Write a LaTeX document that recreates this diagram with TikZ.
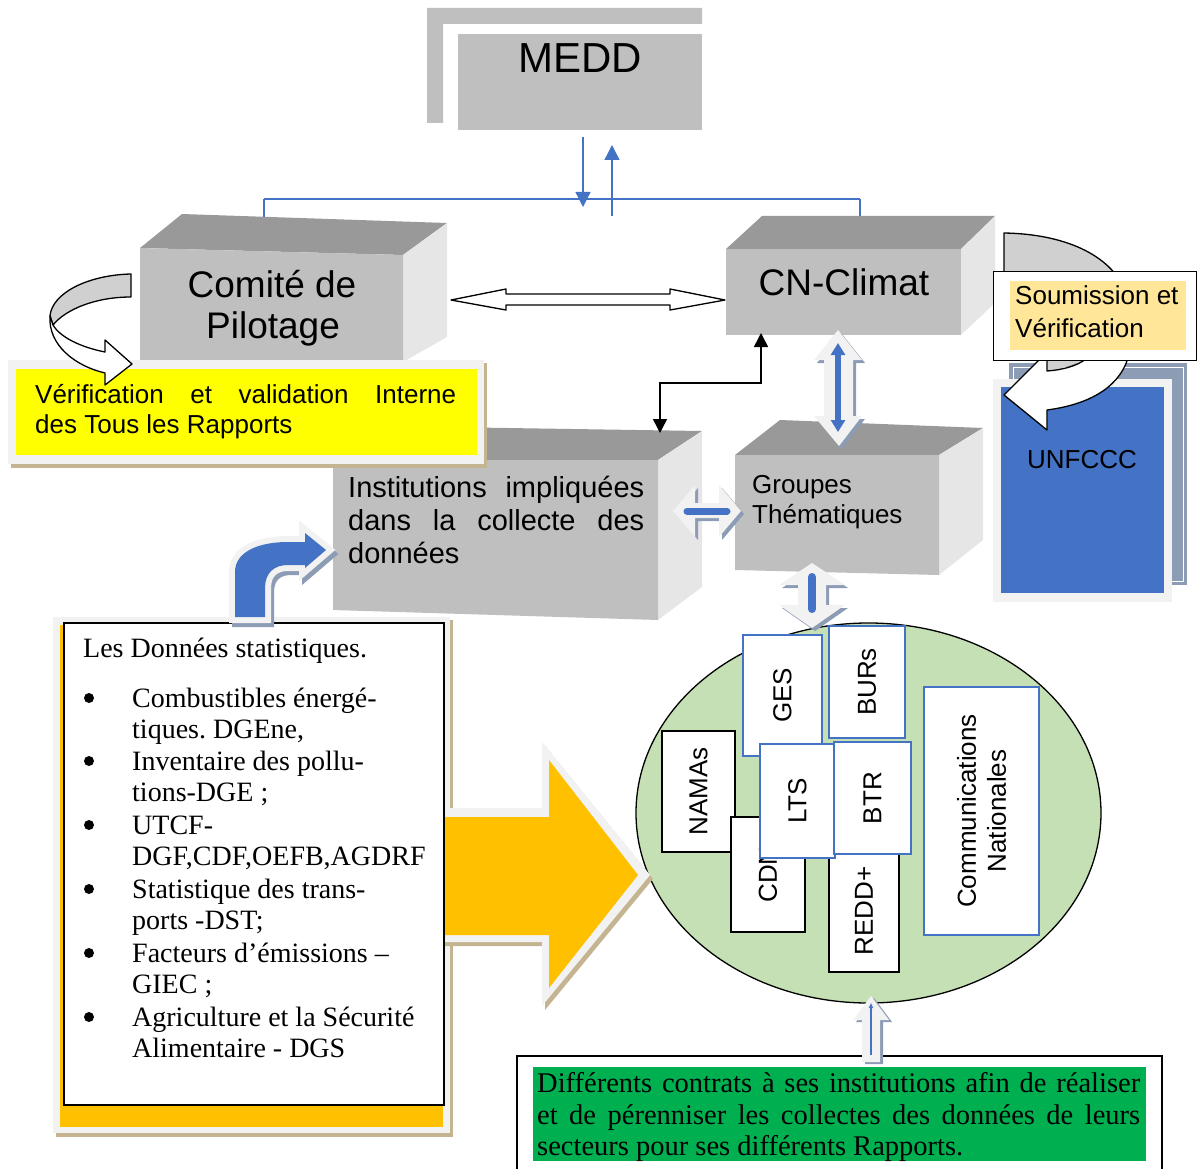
\documentclass[tikz,border=0pt]{standalone}
\usepackage{fontspec}
\setmainfont{Liberation Sans}
\newfontfamily\seriffont{Liberation Serif}
\usetikzlibrary{arrows.meta}
\frenchspacing
\definecolor{gfront}{HTML}{BFBFBF}
\definecolor{gtop}{HTML}{999999}
\definecolor{gside}{HTML}{E6E6E6}
\definecolor{bl}{HTML}{4472C4}
\definecolor{lightfr}{HTML}{F2F2F2}
\definecolor{tanc}{HTML}{C4B590}
\definecolor{yel}{HTML}{FFFF00}
\definecolor{peach}{HTML}{FFE699}
\definecolor{orng}{HTML}{FFC000}
\definecolor{ellg}{HTML}{C5E0B4}
\definecolor{grn}{HTML}{00B050}
\definecolor{bgray}{HTML}{8C9CB4}
\definecolor{curvg}{HTML}{D0D0D0}
\tikzset{
  fs/.style={font=\fontsize{#1}{#1}\selectfont},
  sfs/.style={font=\seriffont\fontsize{#1}{#1}\selectfont},
  txt/.style={inner sep=0pt, anchor=base west},
  ctxt/.style={inner sep=0pt, anchor=base},
  blueconn/.style={draw=bl, line width=1.3pt, -{Triangle[width=15pt,length=15pt]}},
  bluebox/.style={draw=bl, line width=2.2pt, fill=white, rotate=90, inner sep=0pt, fs=26, align=center},
  blackbox/.style={draw=black, line width=1.5pt, fill=white, rotate=90, inner sep=0pt, fs=26},
  outl/.style={draw=black, line width=1.3pt, line join=round},
  lighta/.style={fill=lightfr},
  shada/.style={fill=bgray},
  bulletdot/.style={circle, fill=black, inner sep=0pt, minimum size=10pt},
}
\begin{document}
\begin{tikzpicture}[x=1pt,y=-1pt]
\useasboundingbox (0,0) rectangle (1197,1169);

% ---------------- MEDD
\fill[gfront] (427,8) -- (702,8) -- (702,24) -- (443,24) -- (443,123) -- (427,123) -- cycle;
\node[fill=gfront, minimum width=244pt, minimum height=96pt, inner sep=0pt, anchor=north west] (medd) at (458,34) {};
\node[ctxt, fs=42] (meddt) at (580,73) {MEDD};

% connectors from MEDD
\coordinate (md1) at (583,137);
\coordinate (md2) at (583,207);
\coordinate (mu1) at (612,216);
\coordinate (mu2) at (612,145);
\coordinate (hl) at (264,199);
\coordinate (hr) at (860,199);
\coordinate (comtop) at (264,252);
\coordinate (cntop) at (860,253);
\draw[blueconn] (md1) -- (md2);
\draw[blueconn] (mu1) -- (mu2);
\draw[draw=bl, line width=1.3pt] (hl) -- (hr);
\draw[blueconn] (hl) -- (comtop);
\draw[blueconn] (hr) -- (cntop);

% ---------------- Comite de Pilotage cube
\fill[gtop] (140,248) -- (182,214) -- (447,223) -- (403,255) -- cycle;
\fill[gside] (403,255) -- (447,223) -- (447,337) -- (403,362) -- cycle;
\fill[gfront] (140,248) -- (403,255) -- (403,362) -- (140,362) -- cycle;
\node[ctxt, fs=37] (com1) at (272,297) {Comité de};
\node[ctxt, fs=37] (com2) at (273,338) {Pilotage};

% ---------------- CN-Climat cube
\fill[gtop] (726,249) -- (762,216) -- (995,216) -- (961,249) -- cycle;
\fill[gside] (961,249) -- (995,216) -- (995,303) -- (961,335) -- cycle;
\fill[gfront] (726,249) rectangle (961,335);
\node[ctxt, fs=37] (cnt) at (844,295) {CN-Climat};

% ---------------- Institutions cube
\fill[gtop] (333,460) -- (377,426) -- (702,431) -- (658,460) -- cycle;
\fill[gside] (658,460) -- (702,431) -- (702,587) -- (658,620) -- cycle;
\fill[gfront] (333,460) -- (658,460) -- (658,620) -- (333,610) -- cycle;
\node[txt, fs=29] (ins1) at (348,497) {\makebox[296pt][s]{Institutions impliquées}};
\node[txt, fs=29] (ins2) at (348,530) {\makebox[296pt][s]{dans la collecte des}};
\node[txt, fs=29] (ins3) at (348,563) {données};

% ---------------- Groupes cube
\fill[gtop] (735,455) -- (780,420) -- (983,428) -- (939,455) -- cycle;
\fill[gside] (939,455) -- (983,428) -- (983,540) -- (939,575) -- cycle;
\fill[gfront] (735,455) -- (939,455) -- (939,575) -- (735,570) -- cycle;
\node[txt, fs=26] (gr1) at (752,493) {Groupes};
\node[txt, fs=26] (gr2) at (752,523) {Thématiques};

% ---------------- Yellow box
\fill[tanc] (11,363) rectangle (487,468);
\fill[lightfr] (8,360) rectangle (484,464);
\fill[yel] (16,369) rectangle (477,455);
\node[txt, fs=26] (ver1) at (35,403) {\makebox[421pt][s]{Vérification et validation Interne}};
\node[txt, fs=26] (ver2) at (35,433) {des Tous les Rapports};

% left curved arrow
\filldraw[outl, fill=curvg] (131,274) .. controls (88,275) and (52,293) .. (50,316) -- (53,325) .. controls (66,309) and (96,297) .. (131,297) -- cycle;
\filldraw[outl, fill=white] (50,316) .. controls (48,345) and (75,366) .. (105,373) -- (105,385) -- (132,364) -- (105,340) -- (105,352) .. controls (80,347) and (60,337) .. (53,325) -- cycle;

% white double arrow Comite <-> CN
\filldraw[outl, fill=white] (451,300) -- (506,289) -- (506,294) -- (670,294) -- (670,289) -- (725,300) -- (670,310) -- (670,305) -- (506,305) -- (506,310) -- cycle;

% black elbow arrow
\coordinate (insttop) at (660,433);
\coordinate (elb) at (761,383);
\coordinate (cnbot) at (761,333);
\draw[line width=1.5pt, {Triangle[width=14pt,length=14pt]}-{Triangle[width=14pt,length=14pt]}] (insttop) |- (elb) -- (cnbot);

% blue vertical double arrow CN <-> Groupes
\fill[shada, shift={(3,3)}] (838,330) -- (862,360) -- (853,360) -- (853,416) -- (862,416) -- (839,446) -- (814,416) -- (824,416) -- (824,360) -- (814,360) -- cycle;
\fill[lighta] (838,330) -- (862,360) -- (853,360) -- (853,416) -- (862,416) -- (839,446) -- (814,416) -- (824,416) -- (824,360) -- (814,360) -- cycle;
\coordinate (va1) at (838,343);
\coordinate (va2) at (838,432);
\draw[bl, line width=6pt, {Triangle[width=14pt,length=12pt]}-{Triangle[width=14pt,length=12pt]}] (va1) -- (va2);

% horizontal double arrow Institutions <-> Groupes
\fill[shada, shift={(3,3)}] (673,511) -- (695,485) -- (695,503) -- (719,503) -- (719,485) -- (741,511) -- (719,537) -- (719,518) -- (695,518) -- (695,537) -- cycle;
\fill[lighta] (673,511) -- (695,485) -- (695,503) -- (719,503) -- (719,485) -- (741,511) -- (719,537) -- (719,518) -- (695,518) -- (695,537) -- cycle;
\coordinate (ha1) at (687,511);
\coordinate (ha2) at (727,511);
\draw[bl, line width=7pt, line cap=round] (ha1) -- (ha2);

% ---------------- UNFCCC
\fill[bgray] (1009,363) rectangle (1187,585);
\draw[white, line width=1pt] (1013,367) rectangle (1183,581);
\fill[lightfr] (993,379) rectangle (1172,602);
\fill[bl] (1001,387) rectangle (1164,593);
\node[ctxt, fs=26] (unf) at (1082,468) {UNFCCC};

% right curved arrow
\filldraw[outl, fill=curvg] (1004,300) -- (1004,233) .. controls (1065,234) and (1110,255) .. (1125,290) -- (1125,300) -- cycle;
\fill[curvg] (1042,358) -- (1092,358) -- (1047,373) -- cycle;
\filldraw[outl, fill=white] (1128,358) .. controls (1118,390) and (1085,405) .. (1047,410) -- (1047,430) -- (1004,395) -- (1047,352) -- (1047,371) .. controls (1062,370) and (1078,366) .. (1087,358) -- cycle;
\node[draw=black, line width=1.3pt, fill=white, minimum width=203pt, minimum height=89pt, inner sep=0pt, anchor=north west] (soum) at (993,271) {};
\fill[peach] (1010,281) rectangle (1186,350);
\node[txt, fs=26] (so1) at (1015,305) {Soumission et};
\node[txt, fs=26] (so2) at (1015,337) {Vérification};

% ---------------- Ellipse
\draw[line width=1.3pt, fill=ellg] (868.5,813) ellipse [x radius=232.5pt, y radius=190pt];
\node[blackbox, minimum width=121pt, minimum height=73pt] (namas) at (698.5,791.5) {NAMAs};
\node[blackbox, minimum width=115pt, minimum height=74pt] (cdn) at (768,874.5) {CDN};
\node[blackbox, minimum width=122pt, minimum height=70pt] (redd) at (864,911) {REDD+};
\node[bluebox, minimum width=121pt, minimum height=79pt] (ges) at (782.5,695.5) {GES};
\node[bluebox, minimum width=112pt, minimum height=76pt] (burs) at (867,682) {BURs};
\node[bluebox, minimum width=114pt, minimum height=75pt] (lts) at (797.5,801) {LTS};
\node[bluebox, minimum width=112pt, minimum height=77pt] (btr) at (872.5,798) {BTR};
\node[bluebox, minimum width=248pt, minimum height=115pt, font=\fontsize{26}{30}\selectfont] (comm) at (981.5,811) {Communications\\Nationales};

% arrow Groupes <-> ellipse
\fill[shada, shift={(3,3)}] (812,563) -- (845,585) -- (826,585) -- (826,605) -- (845,605) -- (812,628) -- (779,605) -- (798,605) -- (798,585) -- (779,585) -- cycle;
\fill[lighta] (812,563) -- (845,585) -- (826,585) -- (826,605) -- (845,605) -- (812,628) -- (779,605) -- (798,605) -- (798,585) -- (779,585) -- cycle;
\coordinate (la1) at (812,577);
\coordinate (la2) at (812,609);
\draw[bl, line width=8pt, line cap=round] (la1) -- (la2);

% ---------------- List box frame
\fill[tanc] (56,620) rectangle (453,1137);
\fill[lightfr] (53,617) rectangle (450,1133);
\fill[orng] (60,625) rectangle (443,1127);

% orange arrow
\fill[tanc, shift={(3,4)}] (440,808) -- (542,808) -- (542,742) -- (650,875) -- (542,1006) -- (542,942) -- (440,942) -- cycle;
\fill[lightfr] (440,808) -- (542,808) -- (542,742) -- (650,875) -- (542,1006) -- (542,942) -- (440,942) -- cycle;
\fill[orng] (440,817) -- (549,817) -- (549,760) -- (638,875) -- (549,988) -- (549,935) -- (440,935) -- cycle;

% list box
\node[draw=black, line width=1.5pt, fill=white, minimum width=380pt, minimum height=482pt, inner sep=0pt, anchor=north west] (listb) at (63,622) {};
\node[txt, sfs=28] (lt0) at (83,657) {Les Données statistiques.};
\foreach \yy/\txtline [count=\i] in {707/{Combustibles énergé-}, 738/{tiques. DGEne,}, 770/{Inventaire des pollu-}, 801/{tions-DGE ;}, 834/{UTCF-}, 865/{DGF,CDF,OEFB,AGDRF}, 898/{Statistique des trans-}, 929/{ports -DST;}, 962/{Facteurs d’émissions –}, 993/{GIEC ;}, 1026/{Agriculture et la Sécurité}, 1057/{Alimentaire - DGS}}
  \node[txt, sfs=28] (lt\i) at (132,\yy) {\txtline};
\foreach \yy [count=\i] in {707,770,834,898,962,1026}
  \node[bulletdot] (bu\i) at (89,\yy-9) {};

% bent blue arrow
\draw[fill=bgray, draw=bgray, line width=12pt, line join=miter, shift={(3,4)}] (235,617) -- (235,572) .. controls (235,552) and (258,542) .. (288,542) -- (305,542) -- (305,533) -- (326,550) -- (305,568) -- (305,565) -- (288,565) .. controls (274,565) and (265,573) .. (265,588) -- (265,617) -- cycle;
\filldraw[fill=lightfr, draw=lightfr, line width=12pt, line join=miter] (235,617) -- (235,572) .. controls (235,552) and (258,542) .. (288,542) -- (305,542) -- (305,533) -- (326,550) -- (305,568) -- (305,565) -- (288,565) .. controls (274,565) and (265,573) .. (265,588) -- (265,617) -- cycle;
\fill[bl] (235,617) -- (235,572) .. controls (235,552) and (258,542) .. (288,542) -- (305,542) -- (305,533) -- (326,550) -- (305,568) -- (305,565) -- (288,565) .. controls (274,565) and (265,573) .. (265,588) -- (265,617) -- cycle;

% ---------------- Green box
\fill[white] (517,1056) rectangle (1162,1169);
\draw[line width=1.3pt] (517,1172) -- (517,1056) -- (1162,1056) -- (1162,1172);
\fill[grn] (533,1067) rectangle (1146,1161);
\node[txt, sfs=28.5] (gt1) at (537,1092) {\makebox[603pt][s]{Différents contrats à ses institutions afin de réaliser}};
\node[txt, sfs=28.5] (gt2) at (537,1124) {\makebox[603pt][s]{et de pérenniser les collectes des données de leurs}};
\node[txt, sfs=28.5] (gt3) at (537,1155) {secteurs pour ses différents Rapports.};

% up arrow green -> ellipse
\fill[shada, shift={(3,2)}] (871,996) -- (889,1020) -- (880,1020) -- (880,1062) -- (862,1062) -- (862,1020) -- (853,1020) -- cycle;
\fill[lighta] (871,996) -- (889,1020) -- (880,1020) -- (880,1062) -- (862,1062) -- (862,1020) -- (853,1020) -- cycle;
\coordinate (ua1) at (871,1055);
\coordinate (ua2) at (871,1003);
\draw[bl, line width=1.2pt, -{Triangle[width=4pt,length=5pt]}] (ua1) -- (ua2);
\end{tikzpicture}
\end{document}
